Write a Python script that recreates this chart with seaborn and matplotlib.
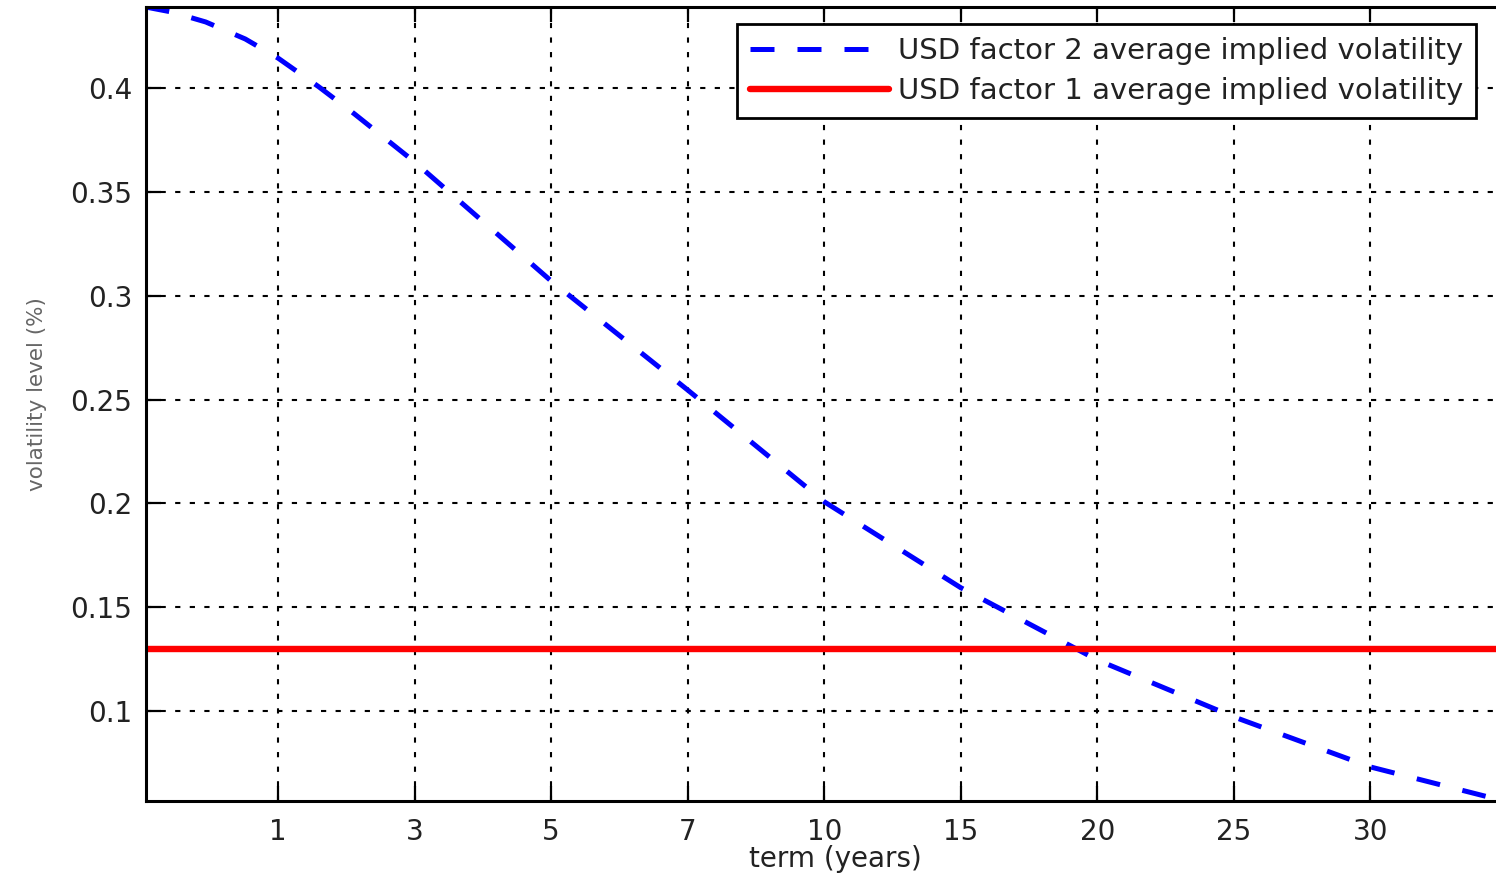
import matplotlib
matplotlib.use("Agg")
import matplotlib.pyplot as plt
import seaborn as sns
import pandas as pd

# x tick labels (term in years), placed at evenly spaced axis positions 1..9
term_labels = ["1", "3", "5", "7", "10", "15", "20", "25", "30"]
term_pos = [1, 2, 3, 4, 5, 6, 7, 8, 9]

# factor 2 curve (axis position -> volatility)
f2_pos = [0.03, 0.22, 0.47, 0.76, 1.0, 1.30, 1.56, 2.0, 3.0, 4.0, 5.0, 6.0, 7.0, 8.0, 9.0, 9.92]
f2_vol = [0.439, 0.4366, 0.4318, 0.4236, 0.4144, 0.4005, 0.3875, 0.3644, 0.3071,
          0.2546, 0.2008, 0.1594, 0.1246, 0.0972, 0.0731, 0.0577]

# factor 1 is flat
f1_level = 0.13

y_ticks = [0.1, 0.15, 0.2, 0.25, 0.3, 0.35, 0.4]
y_labels = ["0.1", "0.15", "0.2", "0.25", "0.3", "0.35", "0.4"]

sns.set_theme(style="white")
plt.rcParams["font.family"] = ["DejaVu Sans"]

fig = plt.figure(figsize=(14.96, 8.75), dpi=100)
ax = fig.add_axes([146 / 1496, 1 - 801 / 875, 1 - 146 / 1496, 794 / 875])

df = pd.DataFrame({"pos": f2_pos, "vol": f2_vol})
sns.lineplot(data=df, x="pos", y="vol", ax=ax, color="#0000ff", linewidth=3.6,
             dashes=False, label="USD factor 2 average implied volatility")
ax.lines[0].set_dashes([4.8, 4.6])
ax.axhline(f1_level, color="#ff0000", linewidth=4.6,
           label="USD factor 1 average implied volatility")

ax.set_xlim(0.033, 9.92)
ax.set_ylim(0.0567, 0.439)
ax.set_xticks(term_pos)
ax.set_xticklabels(term_labels)
ax.set_yticks(y_ticks)
ax.set_yticklabels(y_labels)

ax.grid(True, color="black", linestyle=(0, (2.5, 4.5)), linewidth=1.5)
ax.set_axisbelow(True)

for side in ["left", "bottom", "top"]:
    ax.spines[side].set_visible(True)
    ax.spines[side].set_color("black")
    ax.spines[side].set_linewidth(2.2)
ax.spines["right"].set_visible(False)

ax.tick_params(axis="both", direction="in", length=10.5, width=1.6, colors="black",
               labelcolor="#222222", labelsize=20, pad=12)
ax.tick_params(axis="x", top=True, bottom=True)
ax.tick_params(axis="y", left=True, right=False, pad=10)

ax.set_xlabel("term (years)", fontsize=20, color="#222222")
ax.xaxis.set_label_coords((835 - 146) / (1496 - 146), -0.056)
ax.set_ylabel("volatility level (%)", fontsize=15.5, color="#666666")
ax.yaxis.set_label_coords(-0.073, 0.513)

leg = ax.legend(loc="upper right", bbox_to_anchor=(1476 / 1496, 1 - 24 / 875),
                bbox_transform=fig.transFigure, borderaxespad=0, fontsize=21,
                frameon=True, fancybox=False, handlelength=4.75, handletextpad=0.3,
                labelspacing=0.4, borderpad=0.45)
leg.get_frame().set_edgecolor("black")
leg.get_frame().set_linewidth(2)
leg.get_frame().set_alpha(1)
for t in leg.get_texts():
    t.set_color("#222222")

fig.savefig("out.png", dpi=100)
